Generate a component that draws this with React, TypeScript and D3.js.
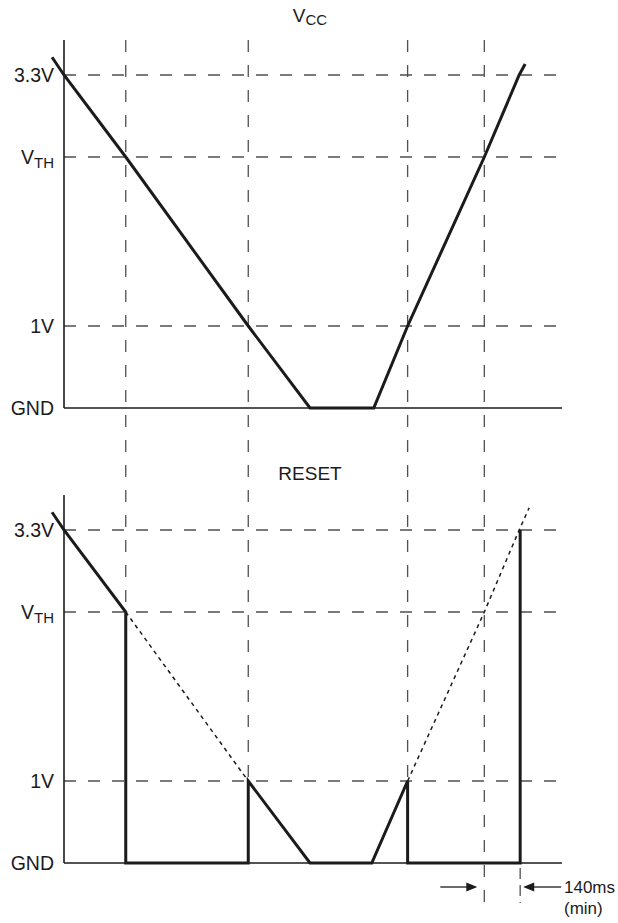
import React from "react";
import * as d3 from "d3";

// ---- data ----
const levelNames = ["GND", "1V", "VTH", "3.3V"];
const levelVolts = [0, 1, 2.93, 3.3];
const gridLevels = [1, 2.93, 3.3];

// VCC waveform (time units, volts)
const vccTime = [-2.4, 0, 12.4, 37, 49.4, 62.2, 69, 84.4, 91.4, 92.6];
const vccVolts = [3.38, 3.3, 2.93, 1, 0, 0, 1, 2.93, 3.3, 3.35];

// RESET waveform
const resetTime = [-2.4, 0, 12.4, 12.4, 37, 37, 49.4, 61.8, 69, 69, 91.6, 91.6];
const resetVolts = [3.38, 3.3, 2.93, 0, 0, 1, 0, 0, 1, 0, 0, 3.3];

// VCC continuation shown dotted on RESET panel
const dotFallTime = [12.4, 37];
const dotFallVolts = [2.93, 1];
const dotRiseTime = [69, 84.4, 91.4, 93.4];
const dotRiseVolts = [1, 2.93, 3.3, 3.4];

// vertical guide lines
const guideTimes = [12.4, 37, 69, 84.4];
const markerTime = 91.6;

const W = 618;
const H = 923;
const FONT = "'Liberation Sans', Arial, Helvetica, sans-serif";
const INK = "#1b1b1b";
const GRID = "#4f4f4f";

export default function App() {
  const x = d3.scaleLinear().domain([0, 100]).range([64, 562]);
  const panelH = 333; // GND -> 3.3V
  const frac = [0, 82 / 333, 251 / 333, 1];
  const mkY = (gnd: number) =>
    d3.scaleLinear().domain(levelVolts).range(frac.map((f) => gnd - f * panelH));
  const yTop = mkY(408);
  const yBot = mkY(863);

  const lineGen = (y: d3.ScaleLinear<number, number>) =>
    d3
      .line<[number, number]>()
      .x((d) => x(d[0]))
      .y((d) => y(d[1]));
  const zip = (a: number[], b: number[]) => a.map((t, i) => [t, b[i]] as [number, number]);

  const panels = [
    { y: yTop, top: 40, title: "V", sub: "CC", gnd: 408 },
    { y: yBot, top: 495, title: "RESET", sub: "", gnd: 863 },
  ];

  const x0 = x(0);
  const xEnd = x(100);
  const tipL = x(84.4) - 7;
  const tipR = x(markerTime) + 3;
  const arrowY = 887;

  return (
    <div style={{ position: "absolute", left: 0, top: 0 }}>
      <svg width={W} height={H} style={{ display: "block", background: "#fff" }} fontFamily={FONT}>
        {/* vertical guides */}
        {guideTimes.map((t, i) => (
          <line
            key={"g" + i}
            x1={x(t)}
            x2={x(t)}
            y1={40}
            y2={i === 3 ? 905 : 863}
            stroke={GRID}
            strokeWidth={1.3}
            strokeDasharray="12,13"
          />
        ))}
        <line x1={x(markerTime)} x2={x(markerTime)} y1={868} y2={903} stroke={GRID} strokeWidth={1.3} strokeDasharray="11,6" />

        {panels.map((p, pi) => (
          <g key={"p" + pi}>
            {/* horizontal dashed levels */}
            {gridLevels.map((v, i) => (
              <line
                key={"h" + i}
                x1={x0}
                x2={xEnd}
                y1={p.y(v)}
                y2={p.y(v)}
                stroke={GRID}
                strokeWidth={1.3}
                strokeDasharray="12,12"
              />
            ))}
            {/* axes */}
            <line x1={x0} x2={x0} y1={p.top} y2={p.gnd} stroke={INK} strokeWidth={1.6} />
            <line x1={x0} x2={xEnd} y1={p.gnd} y2={p.gnd} stroke={INK} strokeWidth={1.6} />
            {/* level labels */}
            {levelNames.map((n, i) => {
              const yy = p.y(levelVolts[i]) + 7;
              if (n === "VTH") {
                return (
                  <text key={"l" + i} x={x0 - 10} y={yy} textAnchor="end" fontSize={19.5} fill={INK}>
                    V<tspan fontSize={15} dy={3.5}>TH</tspan>
                  </text>
                );
              }
              return (
                <text key={"l" + i} x={x0 - 10} y={yy} textAnchor="end" fontSize={19.5} fill={INK}>
                  {n}
                </text>
              );
            })}
            {/* title */}
            <text x={310} y={pi === 0 ? 22 : 480} textAnchor="middle" fontSize={19} fill={INK}>
              {p.title}
              {p.sub ? (
                <tspan fontSize={15} dy={3}>
                  {p.sub}
                </tspan>
              ) : null}
            </text>
          </g>
        ))}

        {/* VCC waveform */}
        <path d={lineGen(yTop)(zip(vccTime, vccVolts)) || ""} fill="none" stroke={INK} strokeWidth={3} strokeLinejoin="miter" />

        {/* dotted continuation */}
        <path d={lineGen(yBot)(zip(dotFallTime, dotFallVolts)) || ""} fill="none" stroke={INK} strokeWidth={1.5} strokeDasharray="4,4" />
        <path d={lineGen(yBot)(zip(dotRiseTime, dotRiseVolts)) || ""} fill="none" stroke={INK} strokeWidth={1.5} strokeDasharray="4,4" />

        {/* RESET waveform */}
        <path d={lineGen(yBot)(zip(resetTime, resetVolts)) || ""} fill="none" stroke={INK} strokeWidth={3} strokeLinejoin="miter" />

        {/* 140ms marker arrows */}
        <line x1={tipL - 37} x2={tipL - 8} y1={arrowY} y2={arrowY} stroke={INK} strokeWidth={1.3} />
        <path d={`M${tipL},${arrowY} L${tipL - 11},${arrowY - 4.5} L${tipL - 11},${arrowY + 4.5} Z`} fill={INK} />
        <line x1={tipR + 8} x2={tipR + 38} y1={arrowY} y2={arrowY} stroke={INK} strokeWidth={1.3} />
        <path d={`M${tipR},${arrowY} L${tipR + 11},${arrowY - 4.5} L${tipR + 11},${arrowY + 4.5} Z`} fill={INK} />
        <text x={564} y={893} fontSize={17} fill={INK}>
          140ms
        </text>
        <text x={564} y={914} fontSize={17} fill={INK}>
          (min)
        </text>
      </svg>
    </div>
  );
}
